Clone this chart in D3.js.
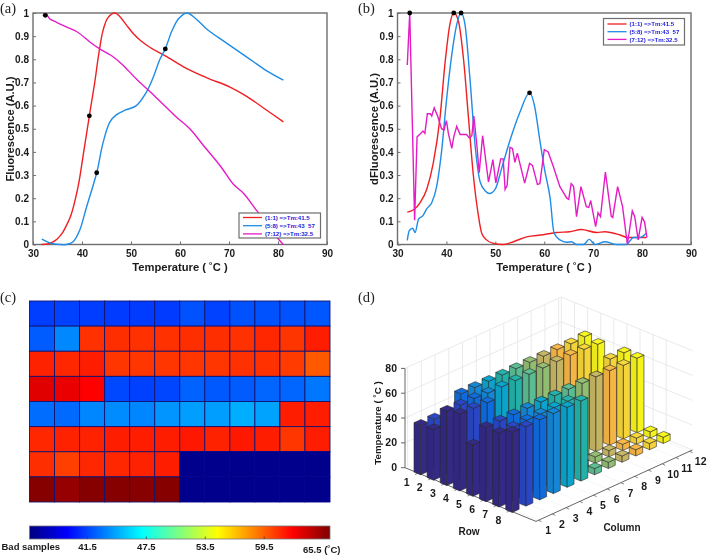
<!DOCTYPE html>
<html><head><meta charset="utf-8">
<script src="https://cdn.jsdelivr.net/npm/d3@7"></script>
<style>
html,body{margin:0;padding:0;background:#fff}
svg{display:block;filter:blur(0.3px)}
text{font-family:"Liberation Sans",Arial,sans-serif;font-weight:bold;fill:#1a1a1a}
.panel{font-family:"Liberation Serif",serif;font-weight:normal;font-size:14.5px;fill:#222}
</style></head><body>
<svg id="c" width="709" height="556"></svg>
<script>
const seriesLabels=["(1:1) =>Tm:41.5","(5:8) =>Tm:43  57","(7:12) =>Tm:32.5"];
const seriesColors=["#ee2024","#1f8ce6","#e41cc6"];
const xTicks=[30,40,50,60,70,80,90];
const yTicks=[0,.1,.2,.3,.4,.5,.6,.7,.8,.9,1];

const aRed=[[31.7,0],[33,.002],[34,.01],[35,.025],[36,.05],[37,.09],[37.8,.13],[39.2,.25],[40.2,.38],[41.5,.556],[42.6,.7],[43.4,.82],[44.3,.925],[45.3,.98],[46.7,1],[47.7,.985],[49,.95],[50.5,.91],[52,.88],[54,.85],[57,.815],[61.4,.76],[65.5,.72],[70.2,.68],[73.6,.64],[77.7,.58],[81.1,.53]];
const aBlue=[[31.8,.023],[33.4,.007],[34.8,.001],[36.8,0],[38.2,.012],[39.5,.06],[40.9,.16],[43,.31],[44.3,.44],[45.7,.53],[47,.56],[48.8,.58],[51.1,.6],[53.2,.66],[54.5,.72],[55.9,.8],[57,.845],[58.3,.92],[59.7,.975],[61.4,1],[63.5,.97],[65.5,.93],[69.5,.87],[74.3,.8],[77.7,.75],[81.1,.71]];
const aMag=[[32.7,1],[33.4,.975],[34.8,.96],[36.8,.94],[38.9,.92],[41.6,.875],[43.6,.845],[46.4,.81],[48.1,.78],[51.1,.715],[53.9,.66],[56.6,.605],[59.3,.55],[62,.5],[64.7,.43],[68.2,.34],[70.9,.26],[73,.22],[75.7,.145],[77.7,.095],[79.8,.03],[81.1,0]];
const aDots=[[32.5,.99],[41.5,.556],[43,.31],[57,.845]];

const bRed=[[32,.14],[33.3,.15],[34.6,.18],[36,.24],[37.3,.35],[38.7,.55],[39.7,.78],[40.7,.95],[41.5,1],[42.4,.97],[43.5,.8],[44.5,.55],[45.5,.3],[46.5,.13],[47.2,.05],[48.2,.02],[49.6,.005],[51.6,0],[53.7,.012],[56.4,.033],[59.8,.042],[62.5,.052],[65.2,.055],[67.6,.065],[70.7,.052],[72.4,.055],[75.4,.042],[77.1,.03],[80.9,.03]];
const bBlue=[[32,.018],[32.4,.06],[33.1,.07],[33.6,.052],[34.3,.11],[35.2,.125],[36,.155],[37,.18],[38,.25],[39,.4],[40,.62],[41.1,.82],[42.1,.95],[43,1],[43.8,.95],[44.8,.72],[45.9,.42],[46.9,.27],[48,.23],[48.8,.22],[50,.24],[51.3,.33],[53,.45],[55,.57],[57,.655],[58,.6],[59.1,.45],[60.1,.32],[61.2,.2],[62,.05],[63.2,.02],[64.6,.01],[65.6,.012],[66.6,0],[68,0],[69.2,.022],[70.4,0],[72.4,.012],[74.8,0],[76.8,0],[77.5,.015],[78.2,.03],[79.5,.03],[80.9,.05]];
const bMag=[[32,.775],[32.5,1],[33.5,.105],[34,.465],[34.8,.48],[35.2,.49],[35.6,.48],[36.1,.565],[36.7,.565],[37,.555],[37.5,.59],[38.2,.555],[39,.5],[39.5,.495],[40,.535],[40.4,.48],[41.1,.415],[41.5,.465],[42.1,.51],[42.8,.475],[44.1,.475],[44.7,.46],[45.2,.47],[45.6,.555],[46.2,.435],[46.7,.31],[47.4,.47],[48.6,.27],[49.5,.367],[50.1,.266],[51.1,.37],[51.6,.37],[52,.238],[52.4,.255],[53,.42],[53.5,.415],[54,.355],[54.5,.395],[56,.265],[57,.35],[57.6,.342],[58.6,.26],[59.1,.263],[60,.41],[60.8,.4],[61.8,.34],[63.2,.25],[64.6,.2],[65,.195],[65.5,.263],[66,.25],[66.6,.12],[67.5,.25],[68.6,.163],[69.1,.16],[69.5,.19],[70.5,.077],[71,.137],[71.5,.12],[72.5,.313],[73.7,.122],[74,.117],[75,.25],[76,.165],[77,0],[78,.145],[78.5,.12],[79.2,.02],[80,.117],[80.5,.098],[81,.03]];
const bDots=[[32.5,1],[41.5,1],[43,1],[57,.655]];

// plate temperatures, rows 1-8 by columns 1-12; 0 marks a bad sample
const plateRow1=[41.3,41.4,41.3,41.2,41.2,41.2,41.9,41.4,41.9,41.9,41.9,42];
const plateRow2=[42.2,43.5,60.9,61,60.9,60.9,61,61,60.9,61.2,60.8,61.5];
const plateRow3=[61.35,61.2,61.5,60.75,60.75,60.75,60.75,60.75,60.9,60.9,60.6,59.7];
const plateRow4=[63.3,63,62.4,41.6,41.35,41.5,42.4,42.1,42.2,42.5,42.5,43];
const plateRow5=[42.7,42.6,43.45,43.6,43.45,43.9,44.2,44.2,44.65,44.35,61.5,61.5];
const plateRow6=[61.2,61.35,61.35,61.5,61.5,61.5,61.65,61.35,61.65,61.5,60.75,61.5];
const plateRow7=[61,60.5,61.2,61.2,61.35,61.5,0,0,0,0,0,0];
const plateRow8=[66,65.5,66,66,65.9,66,0,0,0,0,0,0];
const plate=[plateRow1,plateRow2,plateRow3,plateRow4,plateRow5,plateRow6,plateRow7,plateRow8];
const badBarHeight=5;
const jetStops=["#00007f","#0000ff","#00ffff","#ffff00","#ff0000","#7f0000"];
const jetAt=[0,.125,.375,.625,.875,1];
const colorTicks=[41.5,47.5,53.5,59.5,65.5];
const parula=["#352a87","#2a47c8","#0f6de0","#1488d8","#0ba6cf","#22b4ac","#5cbf94","#94bf73","#c8b865","#f9b845","#f9d83a","#f9f71c"];
const zTicks=[0,20,40,60,80];
const rowTicks=d3.range(1,9), colTicks=d3.range(1,13);

const svg=d3.select("#c");
const gray="#6e6e6e";

function linePanel(L,R,T,B,yt,xtitleX,ytitleX,series,dots,leg){
  const x=d3.scaleLinear([30,90],[L,R]), y=d3.scaleLinear([0,1],[B,T]);
  const g=svg.append("g");
  const ax=g.append("g").attr("transform",`translate(0,${B})`).call(d3.axisBottom(x).tickValues(xTicks).tickSize(-3).tickPadding(5));
  const ay=g.append("g").attr("transform",`translate(${L},0)`).call(d3.axisLeft(y).tickValues(yTicks).tickSize(-3).tickPadding(4).tickFormat(d=>d3.format("~g")(d)));
  [ax,ay].forEach(a=>{a.selectAll("path").remove();a.selectAll("line").attr("stroke",gray);a.selectAll("text").attr("fill","#1a1a1a").style("font-size","10px").style("font-family",'"Liberation Sans"').style("font-weight","bold");});
  g.append("rect").attr("x",L).attr("y",T).attr("width",R-L).attr("height",B-T).attr("fill","none").attr("stroke",gray).attr("stroke-width",1.4);
  const line=d3.line().x(d=>x(d[0])).y(d=>y(d[1]));
  series.forEach((s,i)=>{
    g.append("path").attr("d",line.curve(s.curve)(s.pts)).attr("fill","none").attr("stroke",seriesColors[i]).attr("stroke-width",1.4);
  });
  g.selectAll("circle").data(dots).join("circle").attr("cx",d=>x(d[0])).attr("cy",d=>y(d[1])).attr("r",2.4).attr("fill","#000");
  g.append("text").attr("x",xtitleX).attr("y",271).attr("text-anchor","middle").style("font-size","11.2px").text("Temperature ( ˚C )");
  g.append("text").attr("transform",`translate(${ytitleX},129) rotate(-90)`).attr("text-anchor","middle").style("font-size","11.2px").text(yt);
  const lg=g.append("g");
  lg.append("rect").attr("x",leg.x).attr("y",leg.y).attr("width",leg.w).attr("height",leg.h).attr("fill","#fff").attr("stroke",gray).attr("stroke-width",1.2);
  seriesLabels.forEach((t,i)=>{
    const yy=leg.y+leg.y0+i*leg.dy;
    lg.append("line").attr("x1",leg.x+4).attr("x2",leg.x+23).attr("y1",yy).attr("y2",yy).attr("stroke",seriesColors[i]).attr("stroke-width",1.3);
    lg.append("text").attr("x",leg.x+26).attr("y",yy+2.3).style("font-size","6.1px").style("fill","#1c1cd8").attr("xml:space","preserve").text(t);
  });
}
const smooth=d3.curveCatmullRom.alpha(.5);
linePanel(33,327,13,244.5,"Fluorescence (A.U.)",180,13.5,
  [{pts:aRed,curve:smooth},{pts:aBlue,curve:smooth},{pts:aMag,curve:smooth}],aDots,{x:239,y:213,w:81.5,h:25,y0:4.5,dy:8.2});
linePanel(397.5,691,13,244.5,"dFluorescence (A.U.)",544,378,
  [{pts:bRed,curve:d3.curveMonotoneX},{pts:bBlue,curve:d3.curveMonotoneX},{pts:bMag,curve:d3.curveLinear}],bDots,{x:603.5,y:18.5,w:81,h:26.5,y0:5.5,dy:7.7});

[["(a)",0,13],["(b)",358,13],["(c)",0,302],["(d)",358,302]].forEach(d=>svg.append("text").attr("class","panel").attr("x",d[1]).attr("y",d[2]).text(d[0]));

// (c) heat map
const cL=29.5,cR=330,cT=301,cB=502;
const xBand=d3.scaleBand(d3.range(12),[cL,cR]), yBand=d3.scaleBand(d3.range(8),[cT,cB]);
const tempDomain=[35.6,66.2];
const jetT=d3.scaleLinear().domain(jetAt.map(f=>tempDomain[0]+f*(tempDomain[1]-tempDomain[0]))).range(jetStops).clamp(true);
const heat=svg.append("g");
plate.forEach((row,r)=>row.forEach((v,c)=>{
  heat.append("rect").attr("x",xBand(c)).attr("y",yBand(r)).attr("width",xBand.bandwidth()).attr("height",yBand.bandwidth())
   .attr("fill",v>0?jetT(v):jetT(36)).attr("stroke",v>0?"#14146e":jetT(36)).attr("stroke-width",.9);
}));
// colour bar
const barScale=d3.scaleLinear(tempDomain,[cL,cR]);
const defs=svg.append("defs");
const lgr=defs.append("linearGradient").attr("id","jet");
jetAt.forEach((o,i)=>lgr.append("stop").attr("offset",o).attr("stop-color",jetStops[i]));
svg.append("rect").attr("x",cL).attr("y",526).attr("width",cR-cL).attr("height",13).attr("fill","url(#jet)").attr("stroke","#777").attr("stroke-width",.8);
colorTicks.forEach(t=>{
  svg.append("line").attr("x1",barScale(t)).attr("x2",barScale(t)).attr("y1",539).attr("y2",536.5).attr("stroke","#333").attr("stroke-width",.7);
  if(t<65) svg.append("text").attr("x",barScale(t)).attr("y",550).attr("text-anchor","middle").style("font-size","9.5px").text(t);
});
svg.append("text").attr("x",1.5).attr("y",550).style("font-size","9.5px").text("Bad samples");
svg.append("text").attr("x",303).attr("y",553).style("font-size","9.5px").text("65.5 (˚C)");

// (d) 3-D bars
const ox=405, oy=467.7;
const rX=d3.scaleLinear([0,10],[0,131]), rY=d3.scaleLinear([0,10],[0,53.7]);
const cX=d3.scaleLinear([.81,12.2],[0,156.4]), cY=d3.scaleLinear([.81,12.2],[0,-71.4]);
const zS=d3.scaleLinear([0,80],[0,99.3]);
const P=(r,c,z)=>[ox+rX(r)+cX(c), oy+rY(r)+cY(c)-zS(z)];
const d3g=svg.append("g");
const seg=(a,b,col,w)=>d3g.append("line").attr("x1",a[0]).attr("y1",a[1]).attr("x2",b[0]).attr("y2",b[1]).attr("stroke",col).attr("stroke-width",w);
const grid="#e3e5e7";
zTicks.forEach(z=>{ if(z>0) seg(P(0,.81,z),P(0,12.2,z),grid,.8); seg(P(0,12.2,z),P(10,12.2,z),grid,.8); });
colTicks.forEach(c=>{ seg(P(0,c,0),P(0,c,80),grid,.8); seg(P(0,c,0),P(10,c,0),"#eef0f1",.6); });
rowTicks.forEach(r=>{ seg(P(r,12.2,0),P(r,12.2,80),grid,.8); seg(P(r,.81,0),P(r,12.2,0),"#eef0f1",.6); });
seg(P(0,12.2,0),P(0,12.2,80),grid,.8);
seg(P(0,.81,0),P(0,.81,80),"#666",1);
seg(P(0,.81,0),P(10,.81,0),"#666",1);
seg(P(10,.81,0),P(10,12.2,0),"#666",1);
zTicks.forEach(z=>{
  const p=P(0,.81,z);
  seg([p[0]-4,p[1]],p,"#666",1);
  d3g.append("text").attr("x",p[0]-8).attr("y",p[1]+3.6).attr("text-anchor","end").style("font-size","10.5px").text(z);
});
rowTicks.forEach(r=>{const a=P(r,.81,0);seg(a,[a[0]-3,a[1]+1.5],"#666",.8);
  d3g.append("text").attr("x",a[0]-11.5).attr("y",a[1]+13).attr("text-anchor","middle").style("font-size","10.5px").text(r);});
colTicks.forEach(c=>{const a=P(10,c,0);seg(a,[a[0]+3,a[1]+1.5],"#666",.8);
  d3g.append("text").attr("x",a[0]+(c>9?11:9.5)).attr("y",a[1]+14).attr("text-anchor","middle").style("font-size","10.5px").text(c);});
d3g.append("text").attr("x",469).attr("y",534.5).attr("text-anchor","middle").style("font-size","10px").text("Row");
d3g.append("text").attr("x",622).attr("y",530.5).attr("text-anchor","middle").style("font-size","10px").text("Column");
d3g.append("text").attr("transform","translate(380.5,423) rotate(-90)").attr("text-anchor","middle").style("font-size","9.8px").text("Temperature ( ˚C )");

const h=.25;
for(let c=12;c>=1;c--) for(let r=1;r<=8;r++){
  const v=plate[r-1][c-1], z=(v>0?v:badBarHeight)-1.5*(v>0?1:0);
  const col=parula[c-1];
  const poly=pts=>d3g.append("polygon").attr("points",pts.map(p=>p.join(",")).join(" "));
  const sty=(s,f)=>s.attr("fill",f).attr("stroke","#2a2a2a").attr("stroke-opacity",.85).attr("stroke-width",.7).attr("stroke-linejoin","round");
  sty(poly([P(r-h,c-h,0),P(r+h,c-h,0),P(r+h,c-h,z),P(r-h,c-h,z)]),d3.color(col).darker(.18));
  sty(poly([P(r+h,c-h,0),P(r+h,c+h,0),P(r+h,c+h,z),P(r+h,c-h,z)]),d3.color(col).darker(.05));
  sty(poly([P(r-h,c-h,z),P(r+h,c-h,z),P(r+h,c+h,z),P(r-h,c+h,z)]),col);
}
</script></body></html>
